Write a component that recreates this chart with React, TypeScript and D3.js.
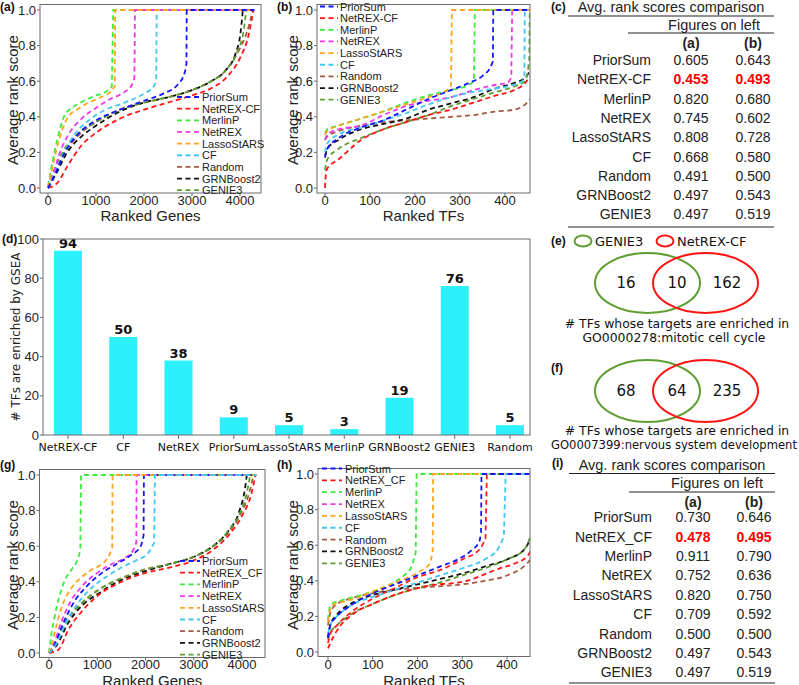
import React from "react";
import * as d3 from "d3";

// ---------- shared labels / colours ----------
const NAMES_AB = ["PriorSum", "NetREX-CF", "MerlinP", "NetREX", "LassoStARS", "CF", "Random", "GRNBoost2", "GENIE3"];
const NAMES_GH = ["PriorSum", "NetREX_CF", "MerlinP", "NetREX", "LassoStARS", "CF", "Random", "GRNBoost2", "GENIE3"];
const COLORS = ["#1414ff", "#ff1414", "#38ec38", "#ee38ee", "#ffa41c", "#40c8f4", "#a55a44", "#111111", "#5e9e30"];
const COLORS_H_LINES = ["#1414ff", "#ff1414", "#38ec38", "#ff2020", "#ffa41c", "#40c8f4", "#a55a44", "#111111", "#5e9e30"];

const GENE_TICKS = [0, 1000, 2000, 3000, 4000];
const TF_TICKS = [0, 100, 200, 300, 400];
const Y_TICKS = [0, 0.2, 0.4, 0.6, 0.8, 1.0];

// ---------- panel (a): ranked genes ----------
const curvesA: number[][][] = [
  [[0, 0], [150, 0.08], [350, 0.2], [650, 0.31], [1000, 0.38], [1500, 0.44], [2000, 0.49], [2400, 0.53], [2700, 0.58], [2850, 0.65], [2885, 0.7]],
  [[0, 0], [200, 0.03], [400, 0.12], [700, 0.24], [1000, 0.31], [1500, 0.39], [2000, 0.44], [2500, 0.48], [3000, 0.52], [3400, 0.56], [3750, 0.63], [4000, 0.73], [4180, 0.86], [4280, 1.0]],
  [[0, 0.01], [60, 0.1], [150, 0.22], [250, 0.33], [350, 0.41], [500, 0.45], [750, 0.49], [1000, 0.52], [1200, 0.54], [1330, 0.57]],
  [[0, 0], [100, 0.07], [250, 0.2], [450, 0.31], [700, 0.39], [1000, 0.45], [1300, 0.5], [1600, 0.54], [1750, 0.58], [1800, 0.62]],
  [[0, 0], [80, 0.1], [180, 0.22], [300, 0.33], [420, 0.4], [600, 0.44], [850, 0.48], [1100, 0.51], [1300, 0.54], [1390, 0.57]],
  [[0, 0], [120, 0.07], [300, 0.18], [550, 0.3], [850, 0.38], [1200, 0.44], [1600, 0.48], [2000, 0.53], [2200, 0.57], [2255, 0.6]],
  [[0, 0], [150, 0.1], [350, 0.2], [650, 0.3], [1000, 0.37], [1500, 0.44], [2000, 0.48], [2500, 0.51], [3000, 0.55], [3400, 0.6], [3700, 0.66], [3950, 0.76], [4150, 0.88], [4270, 1.0]],
  [[0, 0], [150, 0.07], [400, 0.2], [700, 0.29], [1000, 0.35], [1500, 0.43], [2000, 0.48], [2500, 0.51], [3000, 0.55], [3400, 0.6], [3700, 0.66], [3900, 0.75], [4010, 0.87], [4060, 1.0]],
  [[0, 0], [100, 0.08], [300, 0.2], [600, 0.3], [1000, 0.37], [1500, 0.44], [2000, 0.48], [2500, 0.51], [3000, 0.55], [3400, 0.6], [3700, 0.66], [3950, 0.77], [4080, 0.89], [4130, 1.0]],
];
const jumpsA = [2890, null, 1360, 1812, 1400, 2264, null, null, null];

// ---------- panel (b): ranked TFs ----------
const curvesB: number[][][] = [
  [[0, 0.17], [5, 0.22], [30, 0.28], [80, 0.34], [130, 0.38], [180, 0.44], [230, 0.5], [280, 0.55], [320, 0.59], [350, 0.63], [368, 0.68], [373, 0.71]],
  [[0, 0], [2, 0.08], [5, 0.11], [30, 0.16], [80, 0.27], [130, 0.33], [180, 0.37], [230, 0.41], [280, 0.44], [330, 0.48], [380, 0.52], [420, 0.55], [445, 0.59], [456, 0.63]],
  [[0, 0.31], [5, 0.33], [30, 0.35], [80, 0.39], [130, 0.43], [180, 0.48], [230, 0.52], [280, 0.55], [320, 0.58], [331, 0.6]],
  [[0, 0.27], [5, 0.3], [30, 0.33], [80, 0.35], [130, 0.41], [180, 0.46], [230, 0.49], [280, 0.51], [330, 0.55], [380, 0.58], [405, 0.59], [414, 0.62]],
  [[0, 0.3], [5, 0.32], [30, 0.35], [80, 0.39], [130, 0.43], [180, 0.47], [230, 0.51], [265, 0.54], [280, 0.57]],
  [[0, 0.2], [5, 0.25], [30, 0.3], [80, 0.34], [130, 0.38], [180, 0.42], [230, 0.47], [280, 0.51], [330, 0.54], [380, 0.56], [420, 0.58], [438, 0.6], [443, 0.63]],
  [[0, 0.27], [5, 0.29], [30, 0.32], [80, 0.35], [130, 0.37], [180, 0.38], [230, 0.39], [280, 0.4], [330, 0.41], [380, 0.43], [420, 0.44], [440, 0.46], [456, 0.5]],
  [[0, 0.18], [5, 0.22], [30, 0.27], [80, 0.33], [130, 0.36], [180, 0.39], [230, 0.44], [280, 0.475], [330, 0.51], [380, 0.56], [420, 0.59], [445, 0.62], [456, 0.66]],
  [[0, 0.1], [5, 0.16], [30, 0.22], [80, 0.28], [130, 0.33], [180, 0.37], [230, 0.41], [280, 0.46], [330, 0.5], [380, 0.54], [420, 0.57], [445, 0.6], [454, 0.72]],
];
const jumpsB = [374, null, 333, 416, 282, 444, null, null, 455];

// ---------- panel (d): GSEA bar chart ----------
const barLabels = ["NetREX-CF", "CF", "NetREX", "PriorSum", "LassoStARS", "MerlinP", "GRNBoost2", "GENIE3", "Random"];
const barValues = [94, 50, 38, 9, 5, 3, 19, 76, 5];
const barTicks = [0, 20, 40, 60, 80, 100];

// ---------- panels (e), (f): Venn ----------
const vennE = [16, 10, 162];
const vennF = [68, 64, 235];
const vennLegend = ["GENIE3", "NetREX-CF"];
const captionE = ["# TFs whose targets are enriched in", "GO0000278:mitotic cell cycle"];
const captionF = ["# TFs whose targets are enriched in", "GO0007399:nervous system development"];

// ---------- tables (c), (i) ----------
const tableC_A = [0.605, 0.453, 0.82, 0.745, 0.808, 0.668, 0.491, 0.497, 0.497];
const tableC_B = [0.643, 0.493, 0.68, 0.602, 0.728, 0.58, 0.5, 0.543, 0.519];
const tableI_A = [0.73, 0.478, 0.911, 0.752, 0.82, 0.709, 0.5, 0.497, 0.497];
const tableI_B = [0.646, 0.495, 0.79, 0.636, 0.75, 0.592, 0.5, 0.543, 0.519];

// ---------- panel (g): ranked genes ----------
const curvesG: number[][][] = [
  [[0, 0], [120, 0.05], [300, 0.17], [550, 0.3], [800, 0.38], [1100, 0.45], [1400, 0.5], [1700, 0.55], [1900, 0.6], [1960, 0.66]],
  [[0, 0], [200, 0.02], [400, 0.13], [700, 0.24], [1000, 0.32], [1500, 0.4], [2000, 0.45], [2500, 0.48], [3000, 0.52], [3400, 0.58], [3750, 0.67], [4000, 0.77], [4200, 0.9], [4280, 1.0]],
  [[0, 0], [30, 0.07], [100, 0.18], [160, 0.26], [250, 0.35], [330, 0.41], [470, 0.47], [600, 0.53], [650, 0.58]],
  [[0, 0], [100, 0.05], [250, 0.17], [450, 0.29], [700, 0.38], [1000, 0.45], [1300, 0.5], [1550, 0.53], [1750, 0.58], [1810, 0.62]],
  [[0, 0], [60, 0.05], [150, 0.15], [280, 0.27], [450, 0.36], [650, 0.42], [900, 0.47], [1100, 0.5], [1250, 0.55], [1310, 0.59]],
  [[0, 0], [150, 0.05], [350, 0.17], [600, 0.28], [900, 0.37], [1200, 0.43], [1500, 0.48], [1800, 0.52], [2050, 0.56], [2180, 0.62]],
  [[0, 0], [150, 0.05], [350, 0.17], [650, 0.27], [1000, 0.35], [1500, 0.42], [2000, 0.47], [2500, 0.5], [3000, 0.54], [3400, 0.6], [3700, 0.67], [3950, 0.77], [4150, 0.9], [4240, 1.0]],
  [[0, 0], [150, 0.04], [400, 0.17], [700, 0.27], [1000, 0.33], [1500, 0.41], [2000, 0.46], [2500, 0.5], [3000, 0.54], [3400, 0.6], [3700, 0.68], [3950, 0.8], [4060, 0.92], [4100, 1.0]],
  [[0, 0], [100, 0.04], [300, 0.16], [600, 0.26], [1000, 0.35], [1500, 0.42], [2000, 0.47], [2500, 0.5], [3000, 0.54], [3400, 0.6], [3700, 0.68], [3950, 0.78], [4100, 0.9], [4170, 1.0]],
];
const jumpsG = [1967, null, 663, 1815, 1318, 2195, null, null, null];

// ---------- panel (h): ranked TFs ----------
const curvesH: number[][][] = [
  [[0, 0.08], [5, 0.15], [20, 0.2], [50, 0.26], [100, 0.33], [150, 0.38], [200, 0.43], [250, 0.48], [290, 0.52], [320, 0.57], [338, 0.62], [342, 0.67]],
  [[0, 0.02], [5, 0.05], [20, 0.12], [60, 0.22], [100, 0.27], [160, 0.33], [220, 0.37], [310, 0.4], [384, 0.47], [420, 0.5], [446, 0.54], [456, 0.58]],
  [[0, 0.18], [3, 0.24], [8, 0.27], [30, 0.29], [60, 0.31], [100, 0.34], [140, 0.38], [170, 0.43], [185, 0.47], [196, 0.56]],
  [[0, 0.05], [5, 0.1], [20, 0.15], [50, 0.22], [100, 0.3], [150, 0.36], [200, 0.42], [250, 0.46], [300, 0.52], [340, 0.58], [352, 0.64]],
  [[0, 0.17], [3, 0.22], [8, 0.26], [30, 0.28], [60, 0.3], [100, 0.34], [140, 0.38], [180, 0.42], [210, 0.46], [228, 0.5], [234, 0.57]],
  [[0, 0.1], [5, 0.15], [20, 0.2], [50, 0.26], [100, 0.31], [150, 0.35], [200, 0.39], [250, 0.43], [300, 0.47], [350, 0.52], [380, 0.58], [393, 0.65]],
  [[0, 0.15], [5, 0.22], [20, 0.27], [50, 0.3], [100, 0.33], [150, 0.35], [200, 0.36], [250, 0.37], [300, 0.38], [350, 0.4], [400, 0.43], [446, 0.5], [456, 0.53]],
  [[0, 0.08], [5, 0.15], [20, 0.21], [50, 0.27], [100, 0.32], [150, 0.35], [200, 0.38], [250, 0.41], [300, 0.44], [350, 0.48], [400, 0.52], [440, 0.58], [456, 0.66]],
  [[0, 0.07], [5, 0.11], [20, 0.15], [50, 0.21], [100, 0.27], [150, 0.32], [200, 0.36], [250, 0.39], [300, 0.43], [350, 0.47], [400, 0.52], [440, 0.58], [456, 0.68]],
];
const jumpsH = [343, null, 198, 355, 235, 397, null, null, null];

// ---------- components ----------
const SANS = "Liberation Sans, Arial, sans-serif";
const DJV = "DejaVu Sans, sans-serif";
const FRAME = "#6a6a6a";
const DASH = "5,3.5";

type Frame = { x0: number; x1: number; y0: number; y1: number };

function CurvePanel(p: {
  id: string; frame: Frame; xd: number[]; xr: number[]; yr: number[]; xTicks: number[]; end: number;
  curves: number[][][]; jumps: (number | null)[]; order: number[]; lineColors: string[]; names: string[];
  xTitle: string; xTitleY: number; tickY: number; yTitleX: number; yTitleY: number;
  legend: { hx0: number; hx1: number; tx: number; y0: number; dy: number };
  label: { text: string; x: number; y: number };
}) {
  const x = d3.scaleLinear().domain(p.xd).range(p.xr);
  const y = d3.scaleLinear().domain([0, 1]).range(p.yr);
  const f = p.frame;
  const line = d3.line<number[]>().x((d) => x(d[0])).y((d) => y(d[1])).curve(d3.curveMonotoneX);
  const fmt = d3.format(".1f");
  return (
    <g>
      <defs>
        <clipPath id={p.id}>
          <rect x={f.x0} y={f.y0} width={f.x1 - f.x0} height={f.y1 - f.y0} />
        </clipPath>
      </defs>
      <g clipPath={`url(#${p.id})`}>
        {p.order.map((i) => {
          let d = line(p.curves[i]) || "";
          const j = p.jumps[i];
          if (j != null) d += `L${x(j)},${y(1)}L${x(p.end)},${y(1)}`;
          return <path key={i} d={d} fill="none" stroke={p.lineColors[i]} strokeWidth={1.8} strokeDasharray={DASH} />;
        })}
      </g>
      <rect x={f.x0} y={f.y0} width={f.x1 - f.x0} height={f.y1 - f.y0} fill="none" stroke={FRAME} strokeWidth={1} />
      {Y_TICKS.map((t) => (
        <g key={"y" + t}>
          <line x1={f.x0 - 3} x2={f.x0} y1={y(t)} y2={y(t)} stroke={FRAME} />
          <text x={f.x0 - 4} y={y(t)} textAnchor="end" dominantBaseline="central" fontSize={13} fill="#222">{fmt(t)}</text>
        </g>
      ))}
      {p.xTicks.map((t) => (
        <g key={"x" + t}>
          <line x1={x(t)} x2={x(t)} y1={f.y1} y2={f.y1 + 3} stroke={FRAME} />
          <text x={x(t)} y={p.tickY} textAnchor="middle" dominantBaseline="central" fontSize={13} fill="#222">{t}</text>
        </g>
      ))}
      <text x={(f.x0 + f.x1) / 2} y={p.xTitleY} textAnchor="middle" dominantBaseline="central" fontSize={15} fill="#222">{p.xTitle}</text>
      <text transform={`translate(${p.yTitleX},${p.yTitleY}) rotate(-90)`} textAnchor="middle" dominantBaseline="central" fontSize={15} fill="#222">Average rank score</text>
      {p.names.map((n, i) => {
        const ly = p.legend.y0 + i * p.legend.dy;
        return (
          <g key={"l" + n}>
            <line x1={p.legend.hx0} x2={p.legend.hx1} y1={ly} y2={ly} stroke={COLORS[i]} strokeWidth={1.8} strokeDasharray={DASH} />
            <text x={p.legend.tx} y={ly} dominantBaseline="central" fontSize={11} fill="#222">{n}</text>
          </g>
        );
      })}
      <text x={p.label.x} y={p.label.y} dominantBaseline="central" fontSize={12} fontWeight="bold" fill="#111">{p.label.text}</text>
    </g>
  );
}

function RankTable(p: {
  names: string[]; va: number[]; vb: number[]; label: string; lx: number; ly: number;
  x0: number; x1: number; sx: number; titleY: number; line1: number; subY: number; line2: number; headY: number;
  rowY: number; dy: number; bottom: number; nameX: number; ca: number; cb: number; subX: number;
}) {
  const fmt = d3.format(".3f");
  return (
    <g fontFamily={SANS} fill="#222">
      <text x={p.lx} y={p.ly} dominantBaseline="central" fontSize={12} fontWeight="bold" fill="#111">{p.label}</text>
      <text x={(p.x0 + p.x1) / 2} y={p.titleY} textAnchor="middle" dominantBaseline="central" fontSize={14.5}>Avg. rank scores comparison</text>
      <line x1={p.x0} x2={p.x1} y1={p.line1} y2={p.line1} stroke="#222" strokeWidth={1.2} />
      <text x={p.subX} y={p.subY} textAnchor="middle" dominantBaseline="central" fontSize={14.5}>Figures on left</text>
      <line x1={p.sx} x2={p.x1} y1={p.line2} y2={p.line2} stroke="#222" strokeWidth={1.2} />
      <text x={p.ca} y={p.headY} textAnchor="middle" dominantBaseline="central" fontSize={14} fontWeight="bold">(a)</text>
      <text x={p.cb} y={p.headY} textAnchor="middle" dominantBaseline="central" fontSize={14} fontWeight="bold">(b)</text>
      {p.names.map((n, i) => {
        const ry = p.rowY + i * p.dy;
        const hi = i === 1;
        return (
          <g key={n}>
            <text x={p.nameX} y={ry} textAnchor="end" dominantBaseline="central" fontSize={14}>{n}</text>
            <text x={p.ca} y={ry} textAnchor="middle" dominantBaseline="central" fontSize={14} fontWeight={hi ? "bold" : "normal"} fill={hi ? "#ff0000" : "#222"}>{fmt(p.va[i])}</text>
            <text x={p.cb} y={ry} textAnchor="middle" dominantBaseline="central" fontSize={14} fontWeight={hi ? "bold" : "normal"} fill={hi ? "#ff0000" : "#222"}>{fmt(p.vb[i])}</text>
          </g>
        );
      })}
      <line x1={p.x0} x2={p.x1} y1={p.bottom} y2={p.bottom} stroke="#222" strokeWidth={1.2} />
    </g>
  );
}

function BarPanel() {
  const f: Frame = { x0: 43, x1: 530, y0: 239, y1: 435 };
  const x = d3.scalePoint<string>().domain(barLabels).range([68, 510]);
  const y = d3.scaleLinear().domain([0, 100]).range([f.y1, f.y0]);
  const bw = 28;
  return (
    <g>
      {barLabels.map((l, i) => (
        <g key={l}>
          <rect x={(x(l) as number) - bw / 2} y={y(barValues[i])} width={bw} height={y(0) - y(barValues[i])} fill="#2cf0fc" />
          <text x={x(l) as number} y={y(barValues[i]) - 3} textAnchor="middle" fontFamily={DJV} fontWeight="bold" fontSize={13} fill="#111">{barValues[i]}</text>
          <line x1={x(l) as number} x2={x(l) as number} y1={f.y1} y2={f.y1 + 4} stroke={FRAME} />
          <text x={x(l) as number} y={f.y1 + 12} textAnchor="middle" dominantBaseline="central" fontFamily={DJV} fontSize={11} fill="#111">{l}</text>
        </g>
      ))}
      <rect x={f.x0} y={f.y0} width={f.x1 - f.x0} height={f.y1 - f.y0} fill="none" stroke={FRAME} />
      {barTicks.map((t) => (
        <g key={t}>
          <line x1={f.x0 - 3} x2={f.x0} y1={y(t)} y2={y(t)} stroke={FRAME} />
          <text x={f.x0 - 4} y={y(t)} textAnchor="end" dominantBaseline="central" fontSize={13} fill="#222">{t}</text>
        </g>
      ))}
      <text transform={`translate(16,${(f.y0 + f.y1) / 2}) rotate(-90)`} textAnchor="middle" dominantBaseline="central" fontFamily={DJV} fontSize={12} fill="#222"># TFs are enriched by GSEA</text>
      <text x={2} y={f.y0} dominantBaseline="central" fontSize={12} fontWeight="bold" fill="#111">(d)</text>
    </g>
  );
}

function Venn(p: { counts: number[]; cy: number; ry: number; caption: string[]; capY: number; capSizes: number[] }) {
  const gx = 647.5, rx = 705.5, r = 52.5;
  return (
    <g fontFamily={DJV} fill="#111">
      <ellipse cx={gx} cy={p.cy} rx={r} ry={p.ry} fill="none" stroke="#5e9e30" strokeWidth={2} />
      <ellipse cx={rx} cy={p.cy} rx={r} ry={p.ry} fill="none" stroke="#ff1414" strokeWidth={2} />
      <text x={626} y={p.cy} textAnchor="middle" dominantBaseline="central" fontSize={15}>{p.counts[0]}</text>
      <text x={677} y={p.cy} textAnchor="middle" dominantBaseline="central" fontSize={15}>{p.counts[1]}</text>
      <text x={727} y={p.cy} textAnchor="middle" dominantBaseline="central" fontSize={15}>{p.counts[2]}</text>
      {p.caption.map((c, i) => (
        <text key={i} x={i === 0 ? 677 : 674} y={p.capY + i * 14.5} textAnchor="middle" dominantBaseline="central" fontSize={p.capSizes[i]}>{c}</text>
      ))}
    </g>
  );
}

export default function App() {
  return (
    <svg width={799} height={685} style={{ position: "absolute", left: 0, top: 0, background: "#fff" }} fontFamily={SANS}>
      <rect width={799} height={685} fill="#fff" />
      <CurvePanel
        id="clipA" frame={{ x0: 40, x1: 261, y0: 4.5, y1: 193 }} xd={[0, 4000]} xr={[48, 240]} yr={[188, 10]}
        xTicks={GENE_TICKS} end={4300} curves={curvesA} jumps={jumpsA} order={[6, 7, 8, 1, 2, 3, 5, 4, 0]}
        lineColors={COLORS} names={NAMES_AB} xTitle="Ranked Genes" xTitleY={215.5} tickY={200.5} yTitleX={12} yTitleY={100}
        legend={{ hx0: 177, hx1: 200, tx: 202, y0: 97, dy: 11.65 }} label={{ text: "(a)", x: 0, y: 7 }}
      />
      <CurvePanel
        id="clipB" frame={{ x0: 317, x1: 530, y0: 4.5, y1: 193 }} xd={[0, 400]} xr={[325, 505]} yr={[188, 10]}
        xTicks={TF_TICKS} end={470} curves={curvesB} jumps={jumpsB} order={[6, 7, 8, 1, 2, 3, 5, 4, 0]}
        lineColors={COLORS} names={NAMES_AB} xTitle="Ranked TFs" xTitleY={215.5} tickY={200.5} yTitleX={292} yTitleY={100}
        legend={{ hx0: 320, hx1: 338, tx: 340, y0: 6.5, dy: 11.65 }} label={{ text: "(b)", x: 277, y: 7 }}
      />
      <RankTable
        names={NAMES_AB} va={tableC_A} vb={tableC_B} label="(c)" lx={551} ly={7}
        x0={568} x1={774} sx={628} titleY={7} line1={16} subY={25} line2={33} headY={43} subX={714}
        rowY={60} dy={19.3} bottom={227} nameX={651} ca={691} cb={753}
      />
      <BarPanel />
      <g>
        <text x={551} y={241} dominantBaseline="central" fontSize={12} fontWeight="bold" fill="#111">(e)</text>
        <ellipse cx={583} cy={241} rx={8.5} ry={5.5} fill="none" stroke="#5e9e30" strokeWidth={2} />
        <text x={595} y={241} dominantBaseline="central" fontFamily={DJV} fontSize={13} fill="#111">{vennLegend[0]}</text>
        <ellipse cx={665} cy={241} rx={8.5} ry={5.5} fill="none" stroke="#ff1414" strokeWidth={2} />
        <text x={677} y={241} dominantBaseline="central" fontFamily={DJV} fontSize={13} fill="#111">{vennLegend[1]}</text>
      </g>
      <Venn counts={vennE} cy={283} ry={30} caption={captionE} capY={323} capSizes={[12.4, 12.4]} />
      <text x={551} y={368} dominantBaseline="central" fontSize={12} fontWeight="bold" fill="#111">(f)</text>
      <Venn counts={vennF} cy={391} ry={31} caption={captionF} capY={430.5} capSizes={[12.4, 11.6]} />
      <CurvePanel
        id="clipG" frame={{ x0: 39.5, x1: 265, y0: 469.5, y1: 657.5 }} xd={[0, 4000]} xr={[49, 242]} yr={[653, 475]}
        xTicks={GENE_TICKS} end={4300} curves={curvesG} jumps={jumpsG} order={[6, 7, 8, 1, 2, 3, 0, 4, 5]}
        lineColors={COLORS} names={NAMES_GH} xTitle="Ranked Genes" xTitleY={680} tickY={664.5} yTitleX={12} yTitleY={565}
        legend={{ hx0: 180, hx1: 200, tx: 202, y0: 561, dy: 11.7 }} label={{ text: "(g)", x: 0, y: 465 }}
      />
      <CurvePanel
        id="clipH" frame={{ x0: 318, x1: 530, y0: 468.5, y1: 656.5 }} xd={[0, 400]} xr={[328, 507]} yr={[652, 474]}
        xTicks={TF_TICKS} end={470} curves={curvesH} jumps={jumpsH} order={[6, 7, 8, 1, 2, 3, 5, 4, 0]}
        lineColors={COLORS_H_LINES} names={NAMES_GH} xTitle="Ranked TFs" xTitleY={680} tickY={664.5} yTitleX={292} yTitleY={565}
        legend={{ hx0: 322, hx1: 342, tx: 345, y0: 468.5, dy: 11.85 }} label={{ text: "(h)", x: 277, y: 465 }}
      />
      <RankTable
        names={NAMES_GH} va={tableI_A} vb={tableI_B} label="(i)" lx={552} ly={463}
        x0={569} x1={775} sx={629} titleY={465} line1={473.5} subY={483} line2={492} headY={502} subX={717}
        rowY={517.3} dy={19.38} bottom={683} nameX={652} ca={693} cb={754}
      />
    </svg>
  );
}
